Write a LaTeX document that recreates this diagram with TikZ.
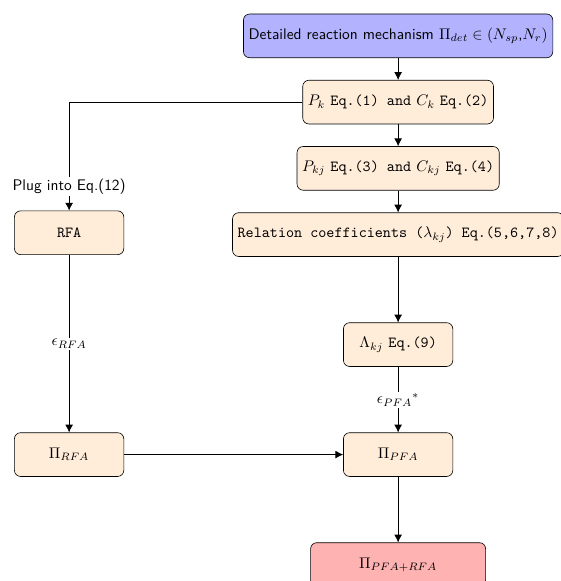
\documentclass[tikz,border=0pt]{standalone}
\usetikzlibrary{positioning,arrows.meta}
\begin{document}
\begin{tikzpicture}[>={Latex[length=5pt,width=5pt]}, font=\sffamily,
		box/.style={draw, rounded corners, fill=orange!15, minimum width=2.5cm, minimum height=1cm},
		lbl/.style={fill=white, inner sep=1pt}]
		\useasboundingbox (0,0) rectangle (12.82,-13.28);
		% right column
		\node[box, fill=blue!30] (det) at (9.1,-0.82) {Detailed reaction mechanism $\Pi_{det} \in (N_{sp}$,$N_r)$};
		\node[box, below=0.5cm of det] (pk) {$P_k$ \texttt{Eq.(1) and} $C_k$ \texttt{Eq.(2)}};
		\node[box, below=0.5cm of pk] (pkj) {$P_{kj}$ \texttt{Eq.(3) and} $C_{kj}$ \texttt{Eq.(4)}};
		\node[box, below=0.5cm of pkj] (rel) {\texttt{Relation coefficients (}$\lambda_{kj}$\texttt{) Eq.(5,6,7,8)}};
		\node[box, below=1.5cm of rel] (lam) {$\Lambda_{kj}$ \texttt{Eq.(9)}};
		\node[box, below=1.5cm of lam] (pfa) {$\Pi_{PFA}$};
		\node[box, fill=red!30, minimum width=4cm, below=1.5cm of pfa] (all) {$\Pi_{PFA+RFA}$};
		% left column
		\node[box] (rfa) at (1.58,-5.32) {\texttt{RFA}};
		\node[box] (pirfa) at (rfa |- pfa) {$\Pi_{RFA}$};
		% connectors
		\draw[->] (det) -- (pk);
		\draw[->] (pk) -- (pkj);
		\draw[->] (pkj) -- (rel);
		\draw[->] (rel) -- (lam);
		\draw[->] (lam) -- node[lbl] (epfa) {$\epsilon_{PFA}{}^{*}$} (pfa);
		\draw[->] (pfa) -- (all);
		\draw[->] (pk.west) -| node[lbl, pos=0.89] (plug) {Plug into Eq.(12)} (rfa.north);
		\draw[->] (rfa) -- node[lbl] (erfa) {$\epsilon_{RFA}$} (pirfa);
		\draw[->] (pirfa) -- (pfa);
	\end{tikzpicture}
\end{document}
